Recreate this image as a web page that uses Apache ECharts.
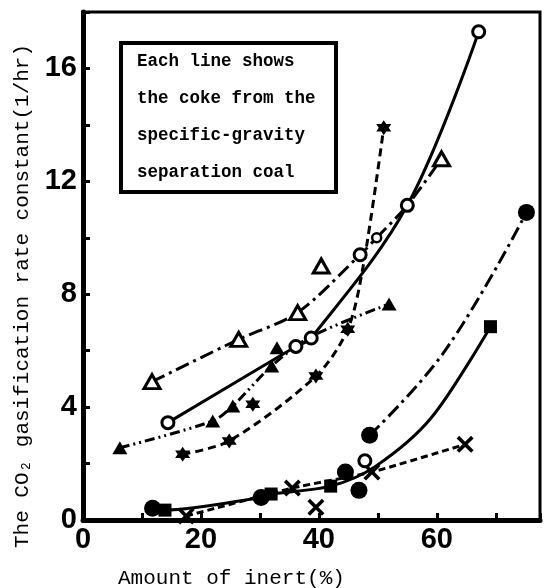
<!DOCTYPE html>
<html>
<head>
<meta charset="utf-8">
<script src="https://cdn.jsdelivr.net/npm/echarts@6/dist/echarts.min.js"></script>
<style>
  html, body { margin: 0; padding: 0; background: #fff; }
  #chart { width: 544px; height: 588px; }
</style>
</head>
<body>
<div id="chart"></div>
<script>
// ---- data (x = amount of inert %, y = rate constant 1/hr) ----
// open circles, solid line
const openCircX = [14.4, 36.1, 38.7, 55.0, 67.1];
const openCircY = [3.45, 6.15, 6.45, 11.15, 17.3];
const openCircSym = ['ocirc', 'ocirc', 'ocirc', 'ocirc', 'ocirc'];

// open triangles, dash-dot line (passes the circles at 47 and 55)
const openTriX = [11.7, 26.4, 36.4, 47.0, 49.8, 55.0, 60.8];
const openTriY = [4.9, 6.4, 7.35, 9.4, 10.0, 11.15, 12.8];
const openTriSym = ['otri', 'otri', 'otri', 'ocirc', 'ocircS', 'none', 'otri'];

// filled triangles, dash-dot-dot line
const fillTriX = [6.25, 22.0, 25.4, 32.0, 38.7, 51.9];
const fillTriY = [2.56, 3.51, 4.04, 5.46, 6.5, 7.65];
const fillTriSym = ['ftri', 'ftri', 'ftri', 'ftri', 'none', 'ftri'];

// stars, dashed line
const starX = [16.9, 24.8, 39.5, 44.9, 47.6, 51.0];
const starY = [2.33, 2.8, 5.1, 6.76, 9.1, 13.9];
const starSym = ['star', 'star', 'star', 'star', 'none', 'star'];

// filled circles, dash-dot line
const fillCircX = [48.6, 61.4, 75.2];
const fillCircY = [3.0, 6.0, 10.9];
const fillCircSym = ['fcirc', 'none', 'fcirc'];

// filled squares, solid line
const squareX = [11.8, 13.9, 30.2, 31.9, 42.0, 49.6, 59.1, 69.1];
const squareY = [0.42, 0.35, 0.8, 0.92, 1.2, 1.9, 3.63, 6.85];
const squareSym = ['fcirc', 'sq', 'fcirc', 'sq', 'sq', 'none', 'none', 'sq'];

// crosses, dashed line
const crossX = [17.5, 35.5, 49.0, 64.8];
const crossY = [0.14, 1.13, 1.7, 2.68];
const crossSym = ['cross', 'cross', 'cross', 'cross'];

// points standing off the lines
const looseX = [40.4, 32.9, 28.8, 39.5, 44.5, 46.8, 47.8];
const looseY = [9.0, 6.1, 4.1, 0.45, 1.7, 1.05, 2.1];
const looseSym = ['otri', 'ftri', 'star', 'cross', 'fcirc', 'fcirc', 'ocirc'];

// axis ticks
const xTickLabels = [0, 20, 40, 60];
const yTickLabels = [0, 4, 8, 12, 16];

const noteLines = ['Each line shows', 'the coke from the', 'specific-gravity', 'separation coal'];

// ---- marker looks ----
const STAR_PATH = 'path://M10,0 L13,5 L19,5 L16,10 L19,15 L13,15 L10,20 L7,15 L1,15 L4,10 L1,5 L7,5 Z';
const CROSS_PATH = 'path://M0,3 L3,0 L10,7 L17,0 L20,3 L13,10 L20,17 L17,20 L10,13 L3,20 L0,17 L7,10 Z';
const SYM = {
    ocirc: { symbol: 'circle', symbolSize: 12, itemStyle: { color: '#fff', borderColor: '#000', borderWidth: 3, opacity: 1 } },
    ocircS: { symbol: 'circle', symbolSize: 9, itemStyle: { color: '#fff', borderColor: '#000', borderWidth: 2.5, opacity: 1 } },
    fcirc: { symbol: 'circle', symbolSize: 17, itemStyle: { color: '#000', opacity: 1 } },
    otri: { symbol: 'triangle', symbolSize: [16, 14], itemStyle: { color: '#fff', borderColor: '#000', borderWidth: 3, opacity: 1 } },
    ftri: { symbol: 'triangle', symbolSize: [15, 13], itemStyle: { color: '#000', opacity: 1 } },
    star: { symbol: STAR_PATH, symbolSize: 15, itemStyle: { color: '#000', opacity: 1 } },
    sq: { symbol: 'rect', symbolSize: 13, itemStyle: { color: '#000', opacity: 1 } },
    cross: { symbol: CROSS_PATH, symbolSize: 17, itemStyle: { color: '#000', opacity: 1 } },
    none: { symbol: 'none' }
};

function points(xs, ys, syms) {
    return xs.map((x, i) => Object.assign({ value: [x, ys[i]] }, SYM[syms[i]]));
}

function lineSeries(name, xs, ys, syms, dash, smooth) {
    return {
        name: name,
        type: 'line',
        data: points(xs, ys, syms),
        smooth: smooth,
        showAllSymbol: true,
        lineStyle: { color: '#000', width: 3, type: dash },
        itemStyle: { color: '#000' },
        z: 3
    };
}

const chart = echarts.init(document.getElementById('chart'), null, { renderer: 'canvas' });

const tickFont = { fontFamily: "'Liberation Sans', Arial, sans-serif", fontWeight: 'bold', fontSize: 29, color: '#000' };
const monoFont = "'Liberation Mono', 'DejaVu Sans Mono', monospace";

const option = {
    animation: false,
    backgroundColor: '#fff',
    grid: {
        left: 83, right: 4, top: 12, bottom: 68,
        show: true, borderColor: '#000', borderWidth: 3
    },
    xAxis: {
        type: 'value', min: 0, max: 77.5, interval: 10,
        axisLine: { show: true, lineStyle: { color: '#000', width: 5 } },
        axisTick: { show: true, inside: true, length: 7, lineStyle: { color: '#000', width: 3 } },
        splitLine: { show: false },
        axisLabel: Object.assign({
            margin: 5,
            formatter: v => xTickLabels.includes(v) ? String(v) : ''
        }, tickFont)
    },
    yAxis: {
        type: 'value', min: 0, max: 18, interval: 2,
        axisLine: { show: true, lineStyle: { color: '#000', width: 5 } },
        axisTick: { show: true, inside: true, length: 7, lineStyle: { color: '#000', width: 3 } },
        splitLine: { show: false },
        axisLabel: Object.assign({
            margin: 6,
            formatter: v => yTickLabels.includes(v) ? String(v) : ''
        }, tickFont)
    },
    series: [
        lineSeries('open circles', openCircX, openCircY, openCircSym, 'solid', 0.35),
        lineSeries('open triangles', openTriX, openTriY, openTriSym, [14, 5, 3, 5], 0.3),
        lineSeries('filled triangles', fillTriX, fillTriY, fillTriSym, [10, 4, 2, 4, 2, 4], 0.3),
        lineSeries('stars', starX, starY, starSym, [8, 5], 0.3),
        lineSeries('filled circles', fillCircX, fillCircY, fillCircSym, [14, 5, 3, 5], 0.4),
        lineSeries('squares', squareX, squareY, squareSym, 'solid', 0.3),
        lineSeries('crosses', crossX, crossY, crossSym, [7, 4], 0.2),
        {
            name: 'loose',
            type: 'scatter',
            data: points(looseX, looseY, looseSym),
            itemStyle: { color: '#000', opacity: 1 },
            z: 4
        }
    ],
    graphic: [
        {
            type: 'rect',
            shape: { x: 121, y: 43, width: 215, height: 149 },
            style: { fill: '#fff', stroke: '#000', lineWidth: 4 },
            z: 10
        },
        ...noteLines.map((t, i) => ({
            type: 'text',
            x: 137,
            y: 62 + i * 36.7,
            style: {
                text: t,
                fontFamily: monoFont,
                fontWeight: 'bold',
                fontSize: 17.5,
                fill: '#000',
                textVerticalAlign: 'middle'
            },
            z: 11
        })),
        {
            type: 'text',
            x: 22, y: 296,
            rotation: Math.PI / 2,
            style: {
                text: 'The CO\u2082 gasification rate constant(1/hr)',
                fontFamily: monoFont,
                fontSize: 21,
                fill: '#000',
                textAlign: 'center',
                textVerticalAlign: 'middle'
            }
        },
        {
            type: 'text',
            x: 118, y: 578,
            style: {
                text: 'Amount of inert(%)',
                fontFamily: monoFont,
                fontSize: 21,
                fill: '#000',
                textVerticalAlign: 'middle'
            }
        }
    ]
};

chart.setOption(option);
</script>
</body>
</html>
